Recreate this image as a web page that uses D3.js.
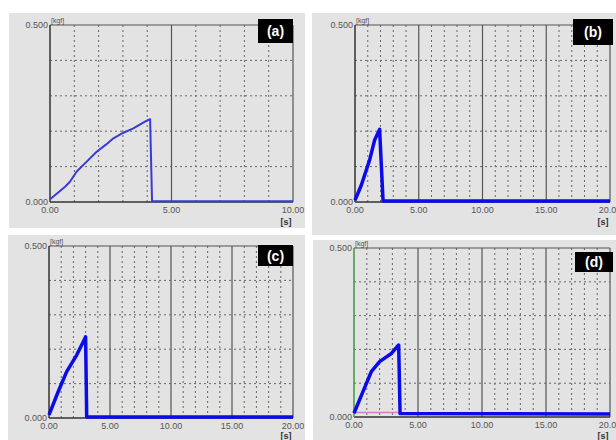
<!DOCTYPE html>
<html>
<head>
<meta charset="utf-8">
<script src="https://cdn.jsdelivr.net/npm/d3@7"></script>
<style>
  body { margin: 0; background: #fff; }
  svg text { font-family: "Liberation Sans", Arial, sans-serif; }
</style>
</head>
<body>
<svg id="chart" width="616" height="440"></svg>
<script>
// Data
const timeA = [0, 0.3, 0.62, 0.82, 1.1, 1.51, 1.92, 2.3, 2.61, 3.0, 3.43, 3.98, 4.12, 4.2, 10];
const forceA = [0.008, 0.025, 0.043, 0.057, 0.086, 0.114, 0.142, 0.162, 0.18, 0.195, 0.208, 0.23, 0.234, 0.002, 0.002];

const timeB = [0, 0.5, 1.15, 1.54, 1.93, 2.2, 20];
const forceB = [0.005, 0.048, 0.119, 0.175, 0.205, 0.003, 0.003];

const timeC = [0, 0.76, 1.45, 2.27, 2.95, 3.0, 3.09, 20];
const forceC = [0.009, 0.077, 0.135, 0.183, 0.232, 0.236, 0.003, 0.003];

const timeD = [0, 0.7, 1.35, 2.0, 2.92, 3.49, 3.6, 20];
const forceD = [0.011, 0.075, 0.134, 0.164, 0.188, 0.213, 0.01, 0.009];
const timeDpink = [0, 3.6];
const forceDpink = [0.013, 0.013];

const yTicks = [0, 0.5];
const yGrid = [0.1, 0.2, 0.3, 0.4];

const panels = [
  { label: "(a)", xMax: 10, xTicks: [0, 5, 10], major: [5], t: timeA, f: forceA,
    bg: [9, 13, 296, 215], plot: [50, 25, 293, 202], box: [258, 19, 35, 24], thin: true },
  { label: "(b)", xMax: 20, xTicks: [0, 5, 10, 15, 20], major: [5, 10, 15], t: timeB, f: forceB,
    bg: [312, 13, 304, 222], plot: [355, 25, 610, 202], box: [573, 19, 40, 26] },
  { label: "(c)", xMax: 20, xTicks: [0, 5, 10, 15, 20], major: [5, 10, 15], t: timeC, f: forceC,
    bg: [8, 235, 297, 205], plot: [49, 246, 293, 418], box: [258, 245, 35, 21] },
  { label: "(d)", xMax: 20, xTicks: [0, 5, 10, 15, 20], major: [5, 10, 15], t: timeD, f: forceD,
    bg: [313, 240, 303, 200], plot: [354, 248, 610, 417], box: [575, 252, 38, 20], green: true }
];

const svg = d3.select("#chart");

panels.forEach(p => {
  const [l, t, r, b] = p.plot;
  const g = svg.append("g");

  g.append("rect")
    .attr("x", p.bg[0]).attr("y", p.bg[1])
    .attr("width", p.bg[2]).attr("height", p.bg[3])
    .attr("fill", "#e3e3e3");

  const x = d3.scaleLinear().domain([0, p.xMax]).range([l, r]);
  const y = d3.scaleLinear().domain([0, 0.5]).range([b, t]);

  // dotted grid
  const minor = d3.range(1, p.xMax).filter(v => !p.major.includes(v));
  g.selectAll(".vgrid").data(minor).enter().append("line")
    .attr("x1", d => x(d)).attr("x2", d => x(d))
    .attr("y1", t).attr("y2", b)
    .attr("stroke", "#666").attr("stroke-width", 1)
    .attr("stroke-dasharray", "2,3");
  g.selectAll(".hgrid").data(yGrid).enter().append("line")
    .attr("x1", l).attr("x2", r)
    .attr("y1", d => y(d)).attr("y2", d => y(d))
    .attr("stroke", "#666").attr("stroke-width", 1)
    .attr("stroke-dasharray", "2,3");
  // solid majors
  g.selectAll(".major").data(p.major).enter().append("line")
    .attr("x1", d => x(d)).attr("x2", d => x(d))
    .attr("y1", t).attr("y2", b)
    .attr("stroke", "#555").attr("stroke-width", 1.2);

  // frame
  g.append("line").attr("x1", l).attr("x2", r).attr("y1", t).attr("y2", t)
    .attr("stroke", "#555").attr("stroke-width", 1.2);
  g.append("line").attr("x1", r).attr("x2", r).attr("y1", t).attr("y2", b)
    .attr("stroke", "#555").attr("stroke-width", 1.2);
  g.append("line").attr("x1", l).attr("x2", r).attr("y1", b).attr("y2", b)
    .attr("stroke", "#333").attr("stroke-width", 1.5);
  g.append("line").attr("x1", l).attr("x2", l).attr("y1", t).attr("y2", b)
    .attr("stroke", p.green ? "#3a9a3a" : "#333").attr("stroke-width", 1.5);

  // tick labels
  g.selectAll(".ylab").data(yTicks).enter().append("text")
    .attr("x", l - 2).attr("y", d => y(d) + 3)
    .attr("text-anchor", "end")
    .attr("font-size", 9).attr("fill", "#555")
    .text(d => d3.format(".3f")(d));
  g.selectAll(".xlab").data(p.xTicks).enter().append("text")
    .attr("x", d => x(d)).attr("y", b + 11)
    .attr("text-anchor", "middle")
    .attr("font-size", 9).attr("fill", "#555")
    .text(d => d3.format(".2f")(d));
  g.append("text").attr("x", l + 1).attr("y", t - 2)
    .attr("font-size", 7).attr("fill", "#555").text("[kgf]");
  g.append("text").attr("x", r - 7).attr("y", Math.min(b + 23, 439))
    .attr("text-anchor", "middle")
    .attr("font-size", 9).attr("font-weight", "bold").attr("fill", "#333").text("[s]");

  const line = d3.line().x(d => x(d[0])).y(d => y(d[1]));

  if (p.green) {
    g.append("path")
      .datum(d3.zip(timeDpink, forceDpink))
      .attr("d", line)
      .attr("fill", "none").attr("stroke", "#d080c8").attr("stroke-width", 1.5);
  }

  g.append("path")
    .datum(d3.zip(p.t, p.f))
    .attr("d", line)
    .attr("fill", "none")
    .attr("stroke", p.thin ? "#3a3ad8" : "#0b0bea")
    .attr("stroke-width", p.thin ? 2 : 3.5)
    .attr("stroke-linejoin", "round");

  // label box
  g.append("rect")
    .attr("x", p.box[0]).attr("y", p.box[1])
    .attr("width", p.box[2]).attr("height", p.box[3])
    .attr("fill", "#000");
  g.append("text")
    .attr("x", p.box[0] + p.box[2] / 2).attr("y", p.box[1] + p.box[3] / 2 + 5)
    .attr("text-anchor", "middle")
    .attr("font-size", 14).attr("font-weight", "bold").attr("fill", "#fff")
    .text(p.label);
});
</script>
</body>
</html>
